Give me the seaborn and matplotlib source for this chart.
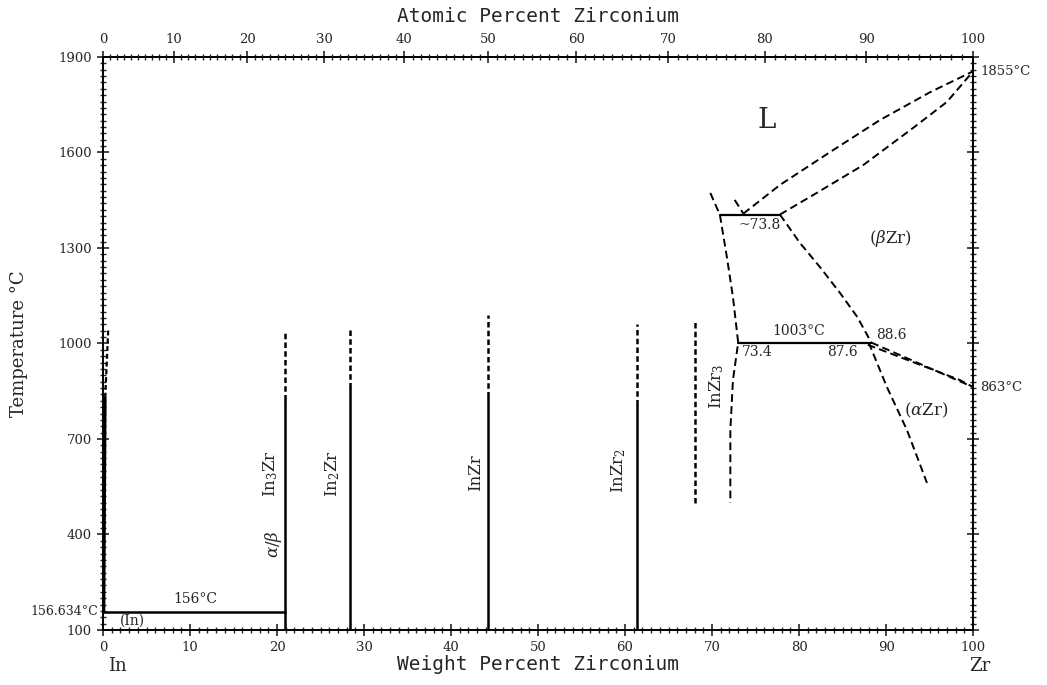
import numpy as np
import matplotlib
matplotlib.use("Agg")
import matplotlib.pyplot as plt
import seaborn as sns
from matplotlib.ticker import MultipleLocator, FixedLocator

# ---------------- data (wt% Zr, temperature in °C) ----------------
compound_names = [r"In$_3$Zr", r"In$_2$Zr", "InZr", r"InZr$_2$"]
compound_wt = [20.94, 28.43, 44.27, 61.37]
compound_solid_top = [822, 860, 832, 808]
compound_dash_top = [1043, 1045, 1089, 1062]
compound_label_wt = [19.3, 26.4, 42.8, 59.3]
compound_label_T = [590, 590, 595, 600]

inzr3_wt = [68.0, 68.0]
inzr3_T = [499, 1067]

in_liq_solid_wt = [0.1, 0.25]
in_liq_solid_T = [157, 830]
in_liq_dash_wt = [0.25, 0.6]
in_liq_dash_T = [830, 1045]

eutectic_wt = [0.0, 20.94]
eutectic_T = [156.6, 156.6]

liquidus_wt = [73.6, 77.8, 83.6, 89.3, 95.1, 100.0]
liquidus_T = [1408, 1498, 1602, 1702, 1790, 1855]
solidus_wt = [77.8, 81.6, 87.4, 93.1, 97.0, 100.0]
solidus_T = [1405, 1466, 1561, 1677, 1759, 1855]

liq_upper_wt = [72.6, 73.6]
liq_upper_T = [1451, 1408]

inzr3_bound_wt = [69.8, 70.9, 71.7, 72.4, 73.0, 72.4, 72.1, 72.1]
inzr3_bound_T = [1473, 1404, 1272, 1146, 1003, 885, 728, 499]

peritectic_wt = [70.9, 77.8]
peritectic_T = [1405, 1405]

beta_bound_wt = [77.8, 80.1, 82.4, 84.7, 86.7, 88.3]
beta_bound_T = [1405, 1316, 1240, 1159, 1083, 1003]

eutectoid_wt = [73.0, 88.3]
eutectoid_T = [1003, 1003]

alpha_solvus_wt = [88.0, 90.1, 92.4, 94.7]
alpha_solvus_T = [1003, 863, 728, 562]

trans_a_wt = [88.3, 100.0]
trans_a_T = [1003, 863]
trans_b_wt = [87.9, 98.5, 100.0]
trans_b_T = [996, 885, 863]

y_ticks = [100, 400, 700, 1000, 1300, 1600, 1900]
x_ticks = [0, 10, 20, 30, 40, 50, 60, 70, 80, 90, 100]
at_ticks = [0, 10, 20, 30, 40, 50, 60, 70, 80, 90, 100]

M_ZR, M_IN = 91.224, 114.82


def wt2at(w):
    w = np.asarray(w, dtype=float)
    nz = w / M_ZR
    ni = (100.0 - w) / M_IN
    with np.errstate(divide="ignore", invalid="ignore"):
        return 100.0 * nz / (nz + ni)


def at2wt(a):
    a = np.asarray(a, dtype=float)
    mz = a * M_ZR
    mi = (100.0 - a) * M_IN
    with np.errstate(divide="ignore", invalid="ignore"):
        return 100.0 * mz / (mz + mi)


# ---------------- style ----------------
sns.set_theme(style="ticks")
plt.rcParams["font.family"] = ["DejaVu Serif", "DejaVu Sans"]
plt.rcParams["mathtext.fontset"] = "dejavuserif"

fig = plt.figure(figsize=(10.47, 6.85), dpi=100)
ax = fig.add_axes([0.0984, 0.0803, 0.8310, 0.8365])

K = "black"
dash_curve = (4, 2.2)
dash_fine = (2.2, 1.3)


def line(x, y, dashes=None, lw=1.4):
    l = sns.lineplot(x=x, y=y, ax=ax, color=K, lw=lw, sort=False,
                     estimator=None, legend=False)
    ln = l.get_lines()[-1]
    if dashes is not None:
        ln.set_dashes(dashes)
    return ln


# compounds
for w, st, dt in zip(compound_wt, compound_solid_top, compound_dash_top):
    line([w, w], [100, st], lw=1.8)
    line([w, w], [st, dt], dashes=dash_fine, lw=1.8)

line(inzr3_wt, inzr3_T, dashes=dash_fine, lw=1.8)

# In side
line(in_liq_solid_wt, in_liq_solid_T, lw=2.0)
line(in_liq_dash_wt, in_liq_dash_T, dashes=dash_fine, lw=1.6)
line(eutectic_wt, eutectic_T, lw=1.8)

# Zr side
line(liquidus_wt, liquidus_T, dashes=dash_curve)
line(solidus_wt, solidus_T, dashes=dash_curve)
line(liq_upper_wt, liq_upper_T, dashes=dash_curve)
line(inzr3_bound_wt, inzr3_bound_T, dashes=dash_curve)
line(peritectic_wt, peritectic_T, lw=1.6)
line(beta_bound_wt, beta_bound_T, dashes=dash_curve)
line(eutectoid_wt, eutectoid_T, lw=1.6)
line(alpha_solvus_wt, alpha_solvus_T, dashes=dash_curve)
line(trans_a_wt, trans_a_T, dashes=dash_curve)
line(trans_b_wt, trans_b_T, dashes=dash_curve)

# ---------------- axes ----------------
ax.set_xlim(0, 100)
ax.set_ylim(100, 1900)
ax.set_xticks(x_ticks)
ax.xaxis.set_minor_locator(MultipleLocator(1))
ax.yaxis.set_major_locator(FixedLocator(y_ticks))
ax.yaxis.set_minor_locator(MultipleLocator(20))
ax.tick_params(which="major", direction="inout", length=9, width=1.2,
               labelsize=9.5, top=False, right=True)
ax.tick_params(which="minor", direction="inout", length=4, width=1.0,
               top=False, right=True)
for s in ax.spines.values():
    s.set_linewidth(1.4)
    s.set_color(K)

ax.set_xlabel("Weight Percent Zirconium", fontsize=14, labelpad=1,
              family=["DejaVu Sans Mono", "DejaVu Sans"])
ax.set_ylabel("Temperature °C", fontsize=13, labelpad=22)

sec = ax.secondary_xaxis("top", functions=(wt2at, at2wt))
sec.set_xticks(at_ticks)
sec.xaxis.set_minor_locator(MultipleLocator(1))
sec.tick_params(which="major", direction="inout", length=9, width=1.2,
                labelsize=9.5)
sec.tick_params(which="minor", direction="inout", length=4, width=1.0)
sec.set_xlabel("Atomic Percent Zirconium", fontsize=14, labelpad=8,
               family=["DejaVu Sans Mono", "DejaVu Sans"])

# ---------------- annotations ----------------
fs = 10
ax.text(-0.6, 156.6, "156.634°C", ha="right", va="center", fontsize=9)
ax.text(100.8, 1855, "1855°C", ha="left", va="center", fontsize=9.5)
ax.text(100.8, 863, "863°C", ha="left", va="center", fontsize=9.5)
ax.text(1.6, -14, "In", ha="center", va="center", fontsize=13)
ax.text(100.8, -14, "Zr", ha="center", va="center", fontsize=13)

for name, lw_, lt in zip(compound_names, compound_label_wt, compound_label_T):
    ax.text(lw_, lt, name, rotation=90, ha="center", va="center",
            fontsize=12)
ax.text(70.5, 865, r"InZr$_3$", rotation=90, ha="center", va="center",
        fontsize=12)
ax.text(19.6, 370, r"$\alpha/\beta$", rotation=90, ha="center", va="center",
        fontsize=12)

ax.text(10.6, 196, "156°C", ha="center", va="center", fontsize=fs)
ax.text(3.4, 130, "(In)", ha="center", va="center", fontsize=fs)

ax.text(76.3, 1702, "L", ha="center", va="center", fontsize=20)
ax.text(90.5, 1330, r"($\beta$Zr)", ha="center", va="center", fontsize=12)
ax.text(94.6, 790, r"($\alpha$Zr)", ha="center", va="center", fontsize=12)
ax.text(75.5, 1372, "~73.8", ha="center", va="center", fontsize=fs)
ax.text(80.0, 1040, "1003°C", ha="center", va="center", fontsize=fs)
ax.text(90.6, 1027, "88.6", ha="center", va="center", fontsize=fs)
ax.text(75.2, 973, "73.4", ha="center", va="center", fontsize=fs)
ax.text(85.0, 973, "87.6", ha="center", va="center", fontsize=fs)

fig.savefig("out.png", dpi=100, facecolor="white")
